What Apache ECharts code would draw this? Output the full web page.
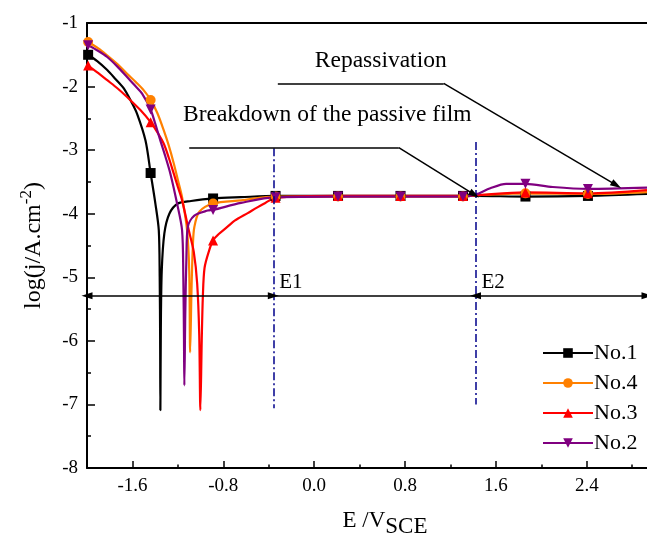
<!DOCTYPE html>
<html>
<head>
<meta charset="utf-8">
<script src="https://cdn.jsdelivr.net/npm/echarts@6/dist/echarts.min.js"></script>
<style>
  html, body { margin: 0; padding: 0; background: #fff; }
  #main { width: 647px; height: 536px; }
</style>
</head>
<body>
<div id="main"></div>
<script>
// polarization curves: [E (V vs SCE), log(j)]
var no1 = [
  [-1.99, -1.50], [-1.91, -1.60], [-1.822, -1.74], [-1.75, -1.88], [-1.676, -2.03],
  [-1.61, -2.24], [-1.559, -2.43], [-1.485, -2.85], [-1.44, -3.36], [-1.398, -3.84],
  [-1.368, -4.26], [-1.360, -5.0], [-1.356, -6.0], [-1.354, -7.09], [-1.350, -5.8],
  [-1.342, -4.9], [-1.319, -4.31], [-1.275, -4.0], [-1.20, -3.84], [-1.084, -3.80],
  [-0.89, -3.76], [-0.644, -3.74], [-0.34, -3.72], [0.21, -3.72], [0.76, -3.72],
  [1.31, -3.72], [1.42, -3.72], [1.86, -3.73], [2.41, -3.72], [2.93, -3.69]
];
var no4 = [
  [-1.99, -1.30], [-1.90, -1.40], [-1.822, -1.51], [-1.73, -1.65], [-1.647, -1.80],
  [-1.57, -1.93], [-1.50, -2.06], [-1.44, -2.21], [-1.38, -2.42], [-1.324, -2.69],
  [-1.28, -2.93], [-1.236, -3.21], [-1.20, -3.47], [-1.163, -3.74], [-1.119, -4.26],
  [-1.10, -4.9], [-1.092, -6.18], [-1.080, -5.2], [-1.068, -4.5], [-1.055, -4.21],
  [-1.011, -3.97], [-0.89, -3.84], [-0.644, -3.79], [-0.34, -3.73], [0.21, -3.73],
  [0.76, -3.73], [1.31, -3.73], [1.42, -3.71], [1.86, -3.68], [2.41, -3.69], [2.93, -3.66]
];
var no3 = [
  [-1.99, -1.67], [-1.90, -1.79], [-1.822, -1.90], [-1.73, -2.03], [-1.647, -2.165],
  [-1.53, -2.37], [-1.44, -2.56], [-1.38, -2.72], [-1.324, -2.90], [-1.28, -3.12],
  [-1.236, -3.37], [-1.20, -3.58], [-1.163, -3.79], [-1.104, -4.26], [-1.06, -4.6],
  [-1.03, -5.1], [-1.012, -5.9], [-1.002, -7.09], [-0.99, -6.0], [-0.98, -5.3],
  [-0.965, -4.85], [-0.925, -4.58], [-0.89, -4.42], [-0.84, -4.32], [-0.76, -4.20],
  [-0.70, -4.11], [-0.585, -3.99], [-0.50, -3.90], [-0.43, -3.83], [-0.34, -3.75],
  [0.21, -3.72], [0.76, -3.72], [1.31, -3.72], [1.42, -3.71], [1.86, -3.665],
  [2.41, -3.68], [2.93, -3.63]
];
var no2 = [
  [-1.99, -1.35], [-1.90, -1.44], [-1.822, -1.535], [-1.73, -1.69], [-1.647, -1.85],
  [-1.58, -1.98], [-1.515, -2.11], [-1.44, -2.36], [-1.40, -2.58], [-1.354, -2.85],
  [-1.31, -3.10], [-1.266, -3.37], [-1.207, -3.84], [-1.163, -4.26], [-1.152, -5.0],
  [-1.146, -6.0], [-1.143, -6.70], [-1.135, -5.6], [-1.125, -4.7], [-1.113, -4.21],
  [-1.055, -4.03], [-0.937, -3.95], [-0.89, -3.94], [-0.644, -3.83], [-0.34, -3.74],
  [0.21, -3.73], [0.76, -3.73], [1.31, -3.73], [1.42, -3.70], [1.55, -3.60],
  [1.69, -3.53], [1.86, -3.53], [2.10, -3.58], [2.41, -3.61], [2.93, -3.59]
];

// where the curve markers sit
var markerE = [-1.99, -1.44, -0.89, -0.34, 0.21, 0.76, 1.31, 1.86, 2.41];

var xMajorTicks = [-1.6, -0.8, 0, 0.8, 1.6, 2.4];
var xMinorTicks = [-1.2, -0.4, 0.4, 1.2, 2.0, 2.8];

// annotations
var e1 = -0.36, e2 = 1.42;
var e1Span = [-2.97, -7.06];
var e2Span = [-2.87, -7.0];
var arrowLevel = -5.29;
var arrowEnds = [-2.0, 2.93];
var breakdownPath = [[-1.10, -2.96], [0.745, -2.96], [1.41, -3.70]];
var repassPath = [[-0.32, -1.95], [1.14, -1.95], [2.66, -3.55]];
var textNotes = [
  { name: 'Breakdown of the passive film', coord: [0.115, -2.44] },
  { name: 'Repassivation', coord: [0.586, -1.60] }
];
var eLabelLevel = -5.08;

var serif = 'Liberation Serif, Times New Roman, serif';

function toData(arr) {
  return arr.map(function (p) {
    var mark = markerE.some(function (m) { return Math.abs(m - p[0]) < 0.005; });
    return mark ? { value: p } : { value: p, symbol: 'none' };
  });
}

function curve(name, arr, color, symbol, rotate) {
  return {
    name: name,
    type: 'line',
    data: toData(arr),
    symbol: symbol,
    symbolRotate: rotate || 0,
    symbolSize: 10,
    smooth: 0.3,
    lineStyle: { color: color, width: 2.2 },
    itemStyle: { color: color },
    xAxisIndex: 0
  };
}

function seg(a, b, startArrow, endArrow) {
  return [
    { coord: a, symbol: startArrow ? 'triangle' : 'none', symbolSize: [7, 11] },
    { coord: b, symbol: endArrow ? 'triangle' : 'none', symbolSize: [7, 11] }
  ];
}

var dom = document.getElementById('main');
var myChart = echarts.init(dom, null, { renderer: 'canvas' });

var option = {
  animation: false,
  backgroundColor: '#fff',
  grid: { left: 87, right: 0, top: 23, bottom: 68, containLabel: false, outerBoundsMode: 'none' },
  legend: {
    orient: 'vertical',
    left: 537,
    top: 337,
    itemWidth: 50,
    itemHeight: 12,
    itemGap: 8,
    data: ['No.1', 'No.4', 'No.3', 'No.2'],
    textStyle: { fontFamily: serif, fontSize: 22, color: '#000', lineHeight: 22, padding: [0, 0, 0, -4] }
  },
  xAxis: [
    {
      type: 'value', min: -2, max: 2.93, position: 'bottom',
      axisLine: { onZero: false, lineStyle: { color: '#000', width: 2 } },
      axisTick: { inside: true, length: 7, customValues: xMajorTicks, lineStyle: { color: '#000', width: 1.5 } },
      axisLabel: {
        customValues: xMajorTicks, margin: 9, color: '#000', fontFamily: serif, fontSize: 19,
        formatter: function (v) { return v.toFixed(1); }
      },
      splitLine: { show: false },
      name: '{a|E /V}{sub|SCE}',
      nameLocation: 'middle',
      nameGap: 35,
      nameTextStyle: {
        color: '#000', fontFamily: serif, fontSize: 23, padding: [0, 0, 0, 36],
        rich: {
          a: { fontFamily: serif, fontSize: 23, color: '#000' },
          sub: { fontFamily: serif, fontSize: 23, color: '#000', padding: [12, 0, 0, 0] }
        }
      }
    },
    {
      type: 'value', min: -2, max: 2.93, position: 'bottom',
      axisLine: { show: false, onZero: false },
      axisTick: { inside: true, length: 3.5, customValues: xMinorTicks, lineStyle: { color: '#000', width: 1.5 } },
      axisLabel: { show: false },
      splitLine: { show: false }
    },
    {
      type: 'value', min: -2, max: 2.93, position: 'top',
      axisLine: { onZero: false, lineStyle: { color: '#000', width: 2 } },
      axisTick: { show: false },
      axisLabel: { show: false },
      splitLine: { show: false }
    }
  ],
  yAxis: {
    type: 'value', min: -8, max: -1, interval: 1,
    axisLine: { onZero: false, lineStyle: { color: '#000', width: 2 } },
    axisTick: { inside: true, length: 8, lineStyle: { color: '#000', width: 1.5 } },
    minorTick: { show: true, splitNumber: 2, length: 4, lineStyle: { color: '#000', width: 1.5 } },
    axisLabel: { margin: 9, color: '#000', fontFamily: serif, fontSize: 19 },
    splitLine: { show: false },
    minorSplitLine: { show: false },
    name: '{a|log(j/A.cm}{sup|-2}{a|)}',
    nameLocation: 'middle',
    nameRotate: 90,
    nameGap: 37,
    nameTextStyle: {
      color: '#000', fontFamily: serif, fontSize: 24,
      rich: {
        a: { fontFamily: serif, fontSize: 24, color: '#000' },
        sup: { fontFamily: serif, fontSize: 17, color: '#000', padding: [0, 0, 15, 0] }
      }
    }
  },
  series: [
    curve('No.1', no1, '#000000', 'rect'),
    curve('No.4', no4, '#FF8000', 'circle'),
    curve('No.3', no3, '#FF0000', 'triangle'),
    curve('No.2', no2, '#800080', 'triangle', 180),
    {
      name: 'dividers', type: 'line', data: [],
      markLine: {
        silent: true, symbol: 'none', label: { show: false },
        lineStyle: { color: '#00008B', width: 1.5, type: [8, 3, 2, 3] },
        data: [
          [{ coord: [e1, e1Span[0]] }, { coord: [e1, e1Span[1]] }],
          [{ coord: [e2, e2Span[0]] }, { coord: [e2, e2Span[1]] }]
        ]
      }
    },
    {
      name: 'arrows', type: 'line', data: [],
      markLine: {
        silent: true, label: { show: false },
        lineStyle: { color: '#000', width: 1.5, type: 'solid' },
        itemStyle: { color: '#000' },
        data: [
          seg([arrowEnds[0], arrowLevel], [e1, arrowLevel], true, true),
          seg([e1, arrowLevel], [e2, arrowLevel], false, false),
          seg([e2, arrowLevel], [arrowEnds[1], arrowLevel], true, true),
          seg(breakdownPath[0], breakdownPath[1], false, false),
          seg(breakdownPath[1], breakdownPath[2], false, true),
          seg(repassPath[0], repassPath[1], false, false),
          seg(repassPath[1], repassPath[2], false, true)
        ]
      },
      markPoint: {
        silent: true, symbol: 'circle', symbolSize: 0,
        label: { show: true, position: 'inside', color: '#000', fontFamily: serif, fontSize: 23.5, formatter: function (p) { return p.name; } },
        data: textNotes.map(function (t) { return { name: t.name, coord: t.coord }; }).concat([
          { name: 'E1', coord: [e1, eLabelLevel], label: { position: 'right', distance: 6, fontSize: 21 } },
          { name: 'E2', coord: [e2, eLabelLevel], label: { position: 'right', distance: 6, fontSize: 21 } }
        ])
      }
    }
  ]
};

myChart.setOption(option);
window.addEventListener('resize', myChart.resize);
</script>
</body>
</html>
